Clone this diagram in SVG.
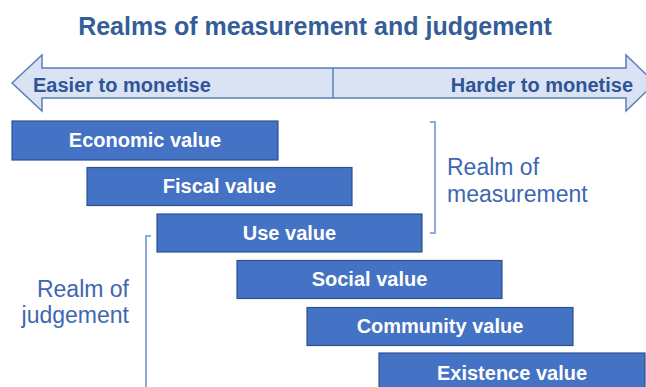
<svg xmlns="http://www.w3.org/2000/svg" width="646" height="387" viewBox="0 0 646 387">
<style>
.title{font-family:"Liberation Sans",Arial,sans-serif;font-weight:bold;font-size:25px;fill:#355E97}
.arrowtxt{font-family:"Liberation Sans",Arial,sans-serif;font-weight:bold;font-size:20px;fill:#2F5597}
.box{fill:#4472C4;stroke:#2F528F;stroke-width:1.2}
.lbl{font-family:"Liberation Sans",Arial,sans-serif;font-weight:bold;font-size:20px;fill:#FFFFFF;text-anchor:middle}
.realm{font-family:"Liberation Sans",Arial,sans-serif;font-size:23px;fill:#3E67B1}
.brace{fill:none;stroke:#8FAADC;stroke-width:2}
</style>
<rect width="646" height="387" fill="#FFFFFF"/>
<text class="title" x="315" y="35" text-anchor="middle">Realms of measurement and judgement</text>
<g id="axis">
<path d="M12,83 L42,55 L42,68 L626,68 L626,55 L655,83 L626,111 L626,98 L42,98 L42,111 Z" fill="#DAE3F3" stroke="#5B7DB8" stroke-width="1.5"/>
<line x1="333" y1="68" x2="333" y2="98" stroke="#5B7DB8" stroke-width="1.5"/>
<text class="arrowtxt" x="33" y="92">Easier to monetise</text>
<text class="arrowtxt" x="633" y="92" text-anchor="end">Harder to monetise</text>
</g>
<g id="economic"><rect class="box" x="12" y="121" width="266" height="39"/><text class="lbl" x="145" y="147">Economic value</text></g>
<g id="fiscal"><rect class="box" x="87" y="167.5" width="265" height="38"/><text class="lbl" x="219.5" y="193">Fiscal value</text></g>
<g id="use"><rect class="box" x="157" y="214" width="265" height="38"/><text class="lbl" x="289.5" y="240">Use value</text></g>
<g id="social"><rect class="box" x="237" y="260.5" width="265" height="38"/><text class="lbl" x="369.5" y="286">Social value</text></g>
<g id="community"><rect class="box" x="307" y="307.5" width="266" height="38"/><text class="lbl" x="440" y="333">Community value</text></g>
<g id="existence"><rect class="box" x="379" y="353" width="266" height="40"/><text class="lbl" x="512" y="380">Existence value</text></g>
<g id="measurement">
<path class="brace" d="M430,122 L435,122 L435,233 L430,233"/>
<text class="realm" x="447" y="175">Realm of</text>
<text class="realm" x="447" y="202">measurement</text>
</g>
<g id="judgement">
<path class="brace" d="M151,236 L146,236 L146,390"/>
<text class="realm" x="129" y="297" text-anchor="end">Realm of</text>
<text class="realm" x="129" y="323" text-anchor="end">judgement</text>
</g>
</svg>
